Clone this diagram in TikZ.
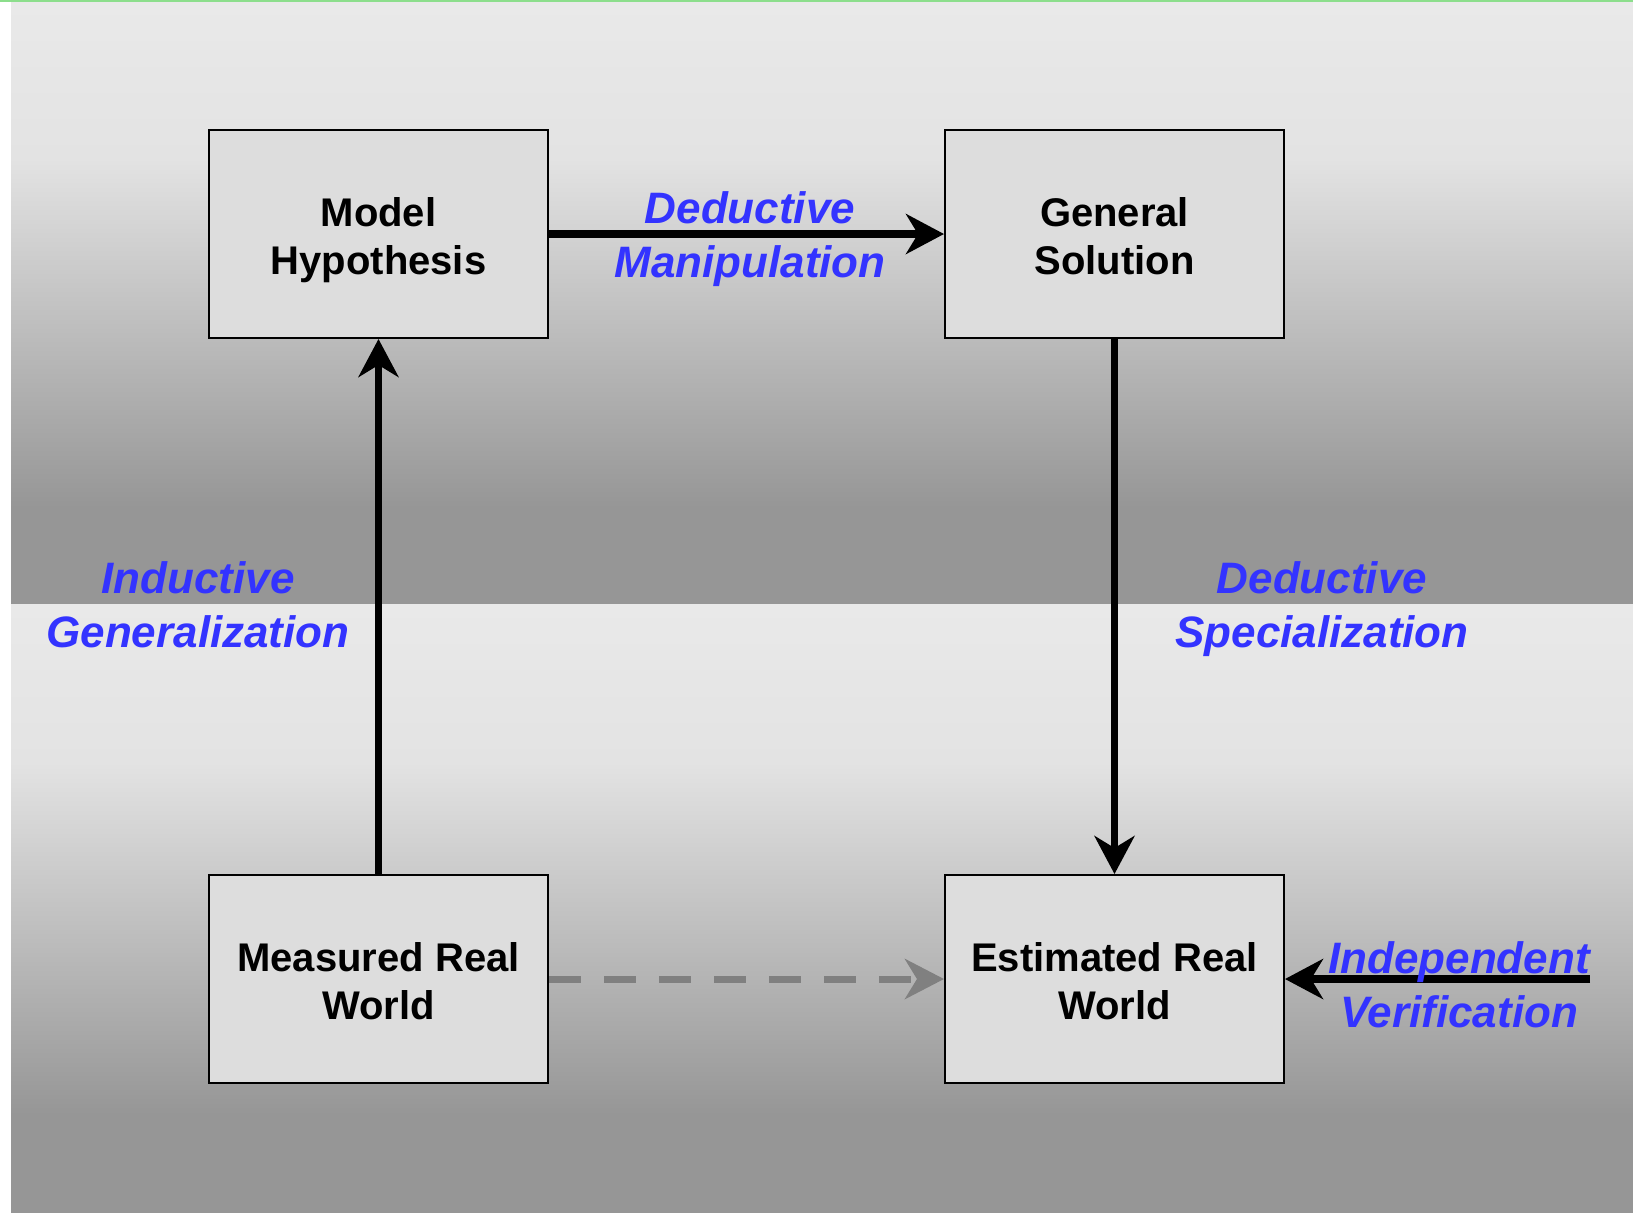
\documentclass[tikz,border=0pt]{standalone}
\usepackage{fontspec}
\setmainfont{Liberation Sans}
\usetikzlibrary{arrows.meta}
\definecolor{lblue}{RGB}{51,51,255}
\definecolor{boxfill}{RGB}{221,221,221}
\definecolor{dashgray}{RGB}{128,128,128}
\definecolor{topgreen}{RGB}{140,222,140}
\definecolor{gdark}{RGB}{150,150,150}
\definecolor{gmid}{RGB}{227,227,227}
\definecolor{glight}{RGB}{233,233,233}
\pgfdeclareverticalshading{bandshade}{100bp}{color(0bp)=(gdark); color(25bp)=(gdark); color(33bp)=(gdark); color(62bp)=(gmid); color(75bp)=(glight); color(100bp)=(glight)}
\tikzset{
  box/.style={draw=black, line width=1pt, fill=boxfill, minimum width=169.5pt, minimum height=104pt,
    align=center, font=\bfseries\fontsize{20}{24}\selectfont, inner sep=0pt},
  btxt/.style={align=center, font=\bfseries\fontsize{20}{24}\selectfont, inner sep=0pt},
  lbl/.style={align=center, text=lblue, font=\bfseries\itshape\fontsize{22}{27}\selectfont, inner sep=0pt},
  arr/.style={line width=3.6pt, draw=black, -{Stealth[length=19pt, width=20pt, inset=6pt]}},
  darr/.style={line width=3.5pt, draw=dashgray, dash pattern=on 16pt off 11.5pt, -{Stealth[length=19.5pt, width=20pt, inset=6pt, fill=dashgray]}},
}
\begin{document}
\begin{tikzpicture}[x=0.5pt, y=-0.5pt]
\useasboundingbox (0,0) rectangle (1633,1212);
\fill[white] (0,0) rectangle (1633,1212);
\shade[shading=bandshade] (11,1) rectangle (1633,604);
\shade[shading=bandshade] (11,604) rectangle (1633,1212);
\fill[topgreen] (0,0) rectangle (1633,1.6);
\node[box] (mh) at (378.5,234) {};
\node[box] (gs) at (1114.5,234) {};
\node[box] (mr) at (378.5,979) {};
\node[box] (er) at (1114.5,979) {};
\node[btxt] (mht) at (378.5,240) {Model\\Hypothesis};
\node[btxt] (gst) at (1114.5,236) {General\\Solution};
\node[btxt] (mrt) at (378.5,981) {Measured Real\\World};
\node[btxt] (ert) at (1114.5,981) {Estimated Real\\World};
\draw[arr] (mh) -- (gs);
\draw[arr] (mr) -- (mh);
\draw[arr] (gs) -- (er);
\draw[darr] (mr) -- (er);
\coordinate (iv) at (1590,979);
\draw[arr] (iv) -- (er);
\node[lbl] (l1) at (750,239) {Deductive\\Manipulation};
\node[lbl] (l2) at (198,605) {Inductive\\Generalization};
\node[lbl] (l3) at (1322,609) {Deductive\\Specialization};
\node[lbl] (l4) at (1459,985) {Independent\\Verification};
\end{tikzpicture}
\end{document}
